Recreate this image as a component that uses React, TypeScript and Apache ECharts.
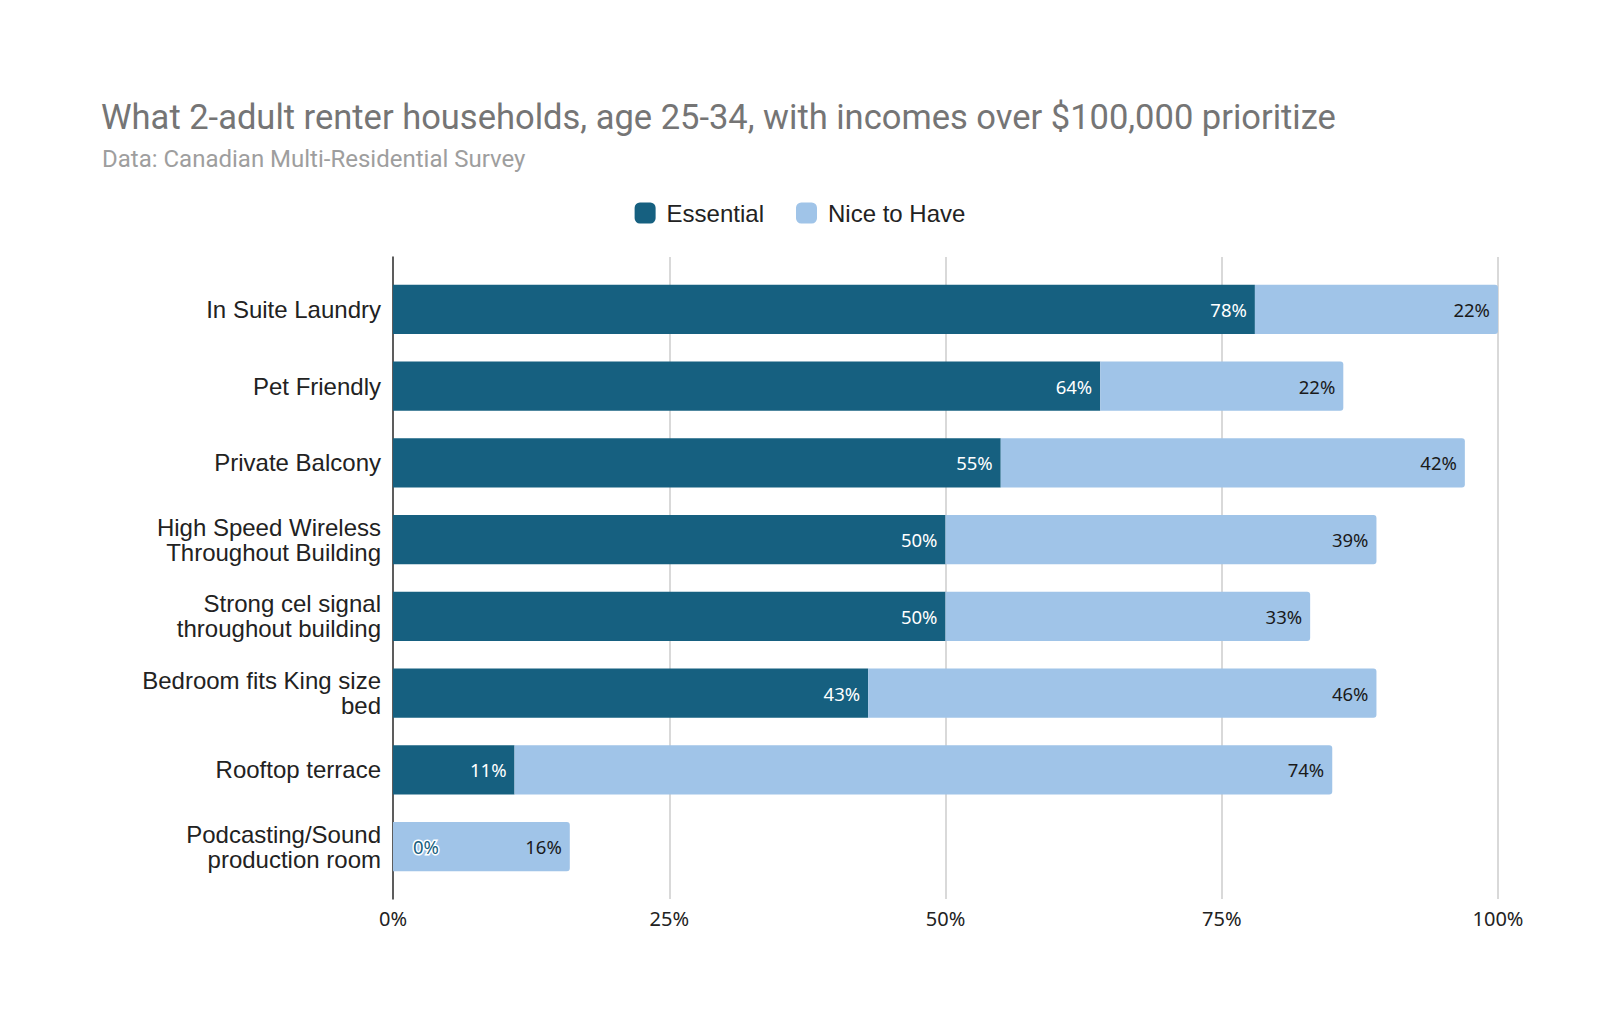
import React, { useEffect, useRef } from "react";
import * as echarts from "echarts";

const categories = [
  "In Suite Laundry",
  "Pet Friendly",
  "Private Balcony",
  "High Speed Wireless\nThroughout Building",
  "Strong cel signal\nthroughout building",
  "Bedroom fits King size\nbed",
  "Rooftop terrace",
  "Podcasting/Sound\nproduction room",
];
const essential = [78, 64, 55, 50, 50, 43, 11, 0];
const niceToHave = [22, 22, 42, 39, 33, 46, 74, 16];
const xTicks = [0, 25, 50, 75, 100];

const TITLE = "What 2-adult renter households, age 25-34, with incomes over $100,000 prioritize";
const SUBTITLE = "Data: Canadian Multi-Residential Survey";

const DARK = "#166080";
const LIGHT = "#a0c4e8";

export default function App() {
  const ref = useRef<HTMLDivElement>(null);
  useEffect(() => {
    if (!ref.current) return;
    const chart = echarts.init(ref.current, null, { renderer: "svg" });
    const valueFont = "'Noto Sans', 'Open Sans', sans-serif";
    const essentialData = essential.map((v) =>
      v === 0
        ? {
            value: v,
            label: {
              position: "right",
              distance: 20,
              color: DARK,
              textBorderColor: "#ffffff",
              textBorderWidth: 3,
            },
          }
        : v
    );
    chart.setOption({
      animation: false,
      backgroundColor: "#ffffff",
      title: [
        {
          text: TITLE,
          left: 96,
          top: 94,
          textStyle: {
            fontFamily: "Roboto, 'Liberation Sans', sans-serif",
            fontSize: 34.5,
            fontWeight: "normal",
            color: "#757575",
          },
        },
        {
          text: SUBTITLE,
          left: 97,
          top: 142,
          textStyle: {
            fontFamily: "Roboto, 'Liberation Sans', sans-serif",
            fontSize: 24,
            fontWeight: "normal",
            color: "#9e9e9e",
          },
        },
      ],
      legend: {
        left: "center",
        top: 196,
        itemWidth: 21,
        itemHeight: 21,
        itemGap: 32,
        icon: "roundRect",
        textStyle: {
          fontFamily: "'Liberation Sans', Arial, sans-serif",
          fontSize: 24,
          color: "#222222",
          padding: [0, 0, 0, 6],
        },
        data: ["Essential", "Nice to Have"],
      },
      grid: [
        { left: 393, right: 102, top: 257, bottom: 132, containLabel: false },
        { left: 393, right: 102, top: 271, bottom: 146, containLabel: false },
      ],
      xAxis: [
        {
          gridIndex: 0,
          type: "value",
          min: 0,
          max: 100,
          interval: 25,
          axisLine: { show: false },
          axisTick: { show: false },
          splitLine: { show: true, lineStyle: { color: "#cccccc", width: 1.5 } },
          axisLabel: {
            formatter: (v: number) => (xTicks.includes(v) ? v + "%" : ""),
            fontFamily: valueFont,
            fontSize: 20,
            color: "#222222",
            margin: 9,
          },
        },
        {
          gridIndex: 1,
          type: "value",
          min: 0,
          max: 100,
          show: false,
        },
      ],
      yAxis: [
        {
          gridIndex: 0,
          type: "value",
          min: 0,
          max: 1,
          axisLine: { show: true, onZero: false, lineStyle: { color: "#333333", width: 1.5 } },
          axisTick: { show: false },
          axisLabel: { show: false },
          splitLine: { show: false },
        },
        {
          gridIndex: 1,
          type: "category",
          inverse: true,
          data: categories,
          axisLine: { show: false },
          axisTick: { show: false },
          axisLabel: {
            fontFamily: "'Liberation Sans', Arial, sans-serif",
            fontSize: 24,
            lineHeight: 25,
            color: "#222222",
            margin: 12,
            align: "right",
          },
        },
      ],
      series: [
        {
          name: "Essential",
          type: "bar",
          stack: "total",
          xAxisIndex: 1,
          yAxisIndex: 1,
          barCategoryGap: "36%",
          itemStyle: { color: DARK },
          label: {
            show: true,
            position: "insideRight",
            distance: 8,
            formatter: "{c}%",
            fontFamily: valueFont,
            fontSize: 18.5,
            color: "#ffffff",
          },
          data: essentialData,
        },
        {
          name: "Nice to Have",
          type: "bar",
          stack: "total",
          xAxisIndex: 1,
          yAxisIndex: 1,
          barCategoryGap: "36%",
          itemStyle: { color: LIGHT, borderRadius: [0, 3, 3, 0] },
          label: {
            show: true,
            position: "insideRight",
            distance: 8,
            formatter: "{c}%",
            fontFamily: valueFont,
            fontSize: 18.5,
            color: "#1a1a1a",
          },
          data: niceToHave,
        },
      ],
    });
    return () => chart.dispose();
  }, []);
  return (
    <div
      ref={ref}
      style={{ position: "absolute", left: 0, top: 0, width: 1600, height: 1031 }}
    />
  );
}
